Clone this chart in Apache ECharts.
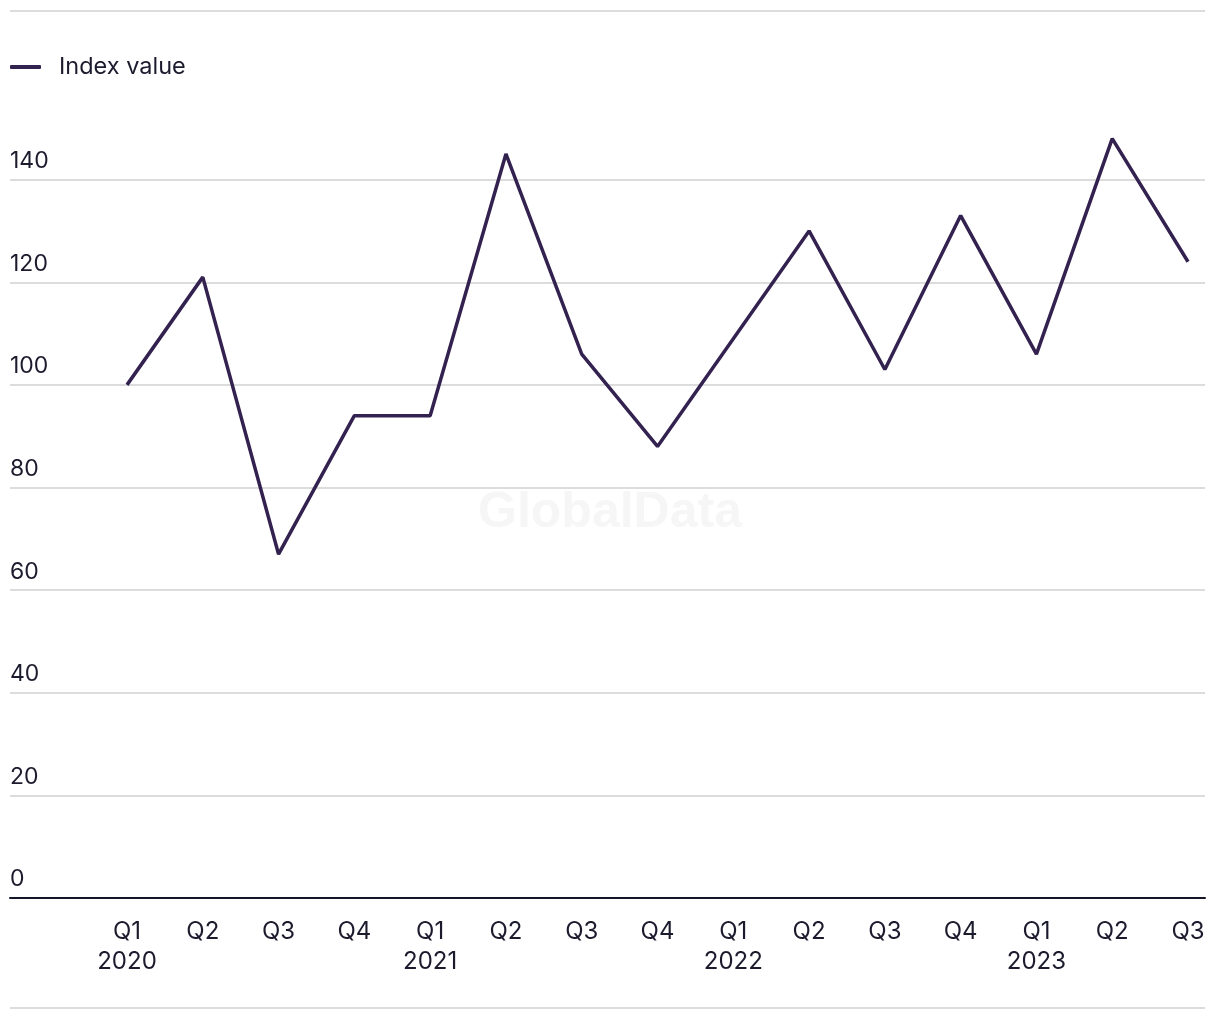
<!DOCTYPE html>
<html>
<head>
<meta charset="utf-8">
<script src="https://cdn.jsdelivr.net/npm/echarts@6/dist/echarts.min.js"></script>
<style>
html,body{margin:0;padding:0;background:#fff;}
#chart{width:1220px;height:1020px;}
</style>
</head>
<body>
<div id="chart"></div>
<script>
const quarters = ['Q1','Q2','Q3','Q4','Q1','Q2','Q3','Q4','Q1','Q2','Q3','Q4','Q1','Q2','Q3'];
const years    = ['2020','','','','2021','','','','2022','','','','2023','',''];
const indexValues = [100,121,67,94,94,145,106,88,109,130,103,133,106,148,124];
const yTicks = [0,20,40,60,80,100,120,140];

const FONT = 'Inter, "Liberation Sans", Arial, sans-serif';
const TEXT = '#1c1b2e';
const LINE = '#33224f';

const seriesData = indexValues.map((v, i) => [i, v]);
const labelIdx = quarters.map((q, i) => i);

const chart = echarts.init(document.getElementById('chart'), null, {renderer: 'canvas'});
chart.setOption({
  animation: false,
  backgroundColor: '#fff',
  textStyle: {fontFamily: FONT},
  legend: {
    show: true,
    left: 10,
    top: 55,
    padding: 0,
    itemWidth: 31,
    itemHeight: 4,
    icon: 'roundRect',
    textStyle: {fontFamily: FONT, fontSize: 23.5, color: TEXT, padding: [0,0,0,13]},
    data: ['Index value']
  },
  graphic: [
    {type: 'line', shape: {x1: 10, y1: 11, x2: 1205, y2: 11}, style: {stroke: '#dcdcdc', lineWidth: 2}, silent: true},
    {type: 'line', shape: {x1: 10, y1: 1008, x2: 1205, y2: 1008}, style: {stroke: '#dcdcdc', lineWidth: 2}, silent: true},
    {type: 'text', left: 'center', top: 488, z: -1, silent: true,
     style: {text: 'GlobalData', font: 'bold 50px "Liberation Sans", Arial, sans-serif', fill: '#f6f6f6'}}
  ],
  grid: {left: 10, right: 15, top: 77, bottom: 122, containLabel: false},
  xAxis: {
    type: 'value',
    min: -1.5438,
    max: 14.224,
    axisLine: {show: true, onZero: false, lineStyle: {color: '#151528', width: 2}},
    axisTick: {show: false},
    splitLine: {show: false},
    axisLabel: {
      customValues: labelIdx,
      margin: 19,
      fontSize: 24,
      lineHeight: 30,
      color: TEXT,
      fontFamily: FONT,
      formatter: function (v) {
        const i = Math.round(v);
        return years[i] ? quarters[i] + '\n' + years[i] : quarters[i];
      }
    }
  },
  yAxis: {
    type: 'value',
    min: 0,
    max: 160,
    interval: 20,
    axisLine: {show: false},
    axisTick: {show: false},
    splitLine: {show: true, showMinLine: false, showMaxLine: false, lineStyle: {color: '#dcdcdc', width: 2}},
    axisLabel: {
      inside: true,
      margin: 0,
      fontSize: 23,
      color: TEXT,
      fontFamily: FONT,
      align: 'left',
      verticalAlign: 'bottom',
      padding: [0,0,7,0],
      formatter: function (v) { return yTicks.indexOf(v) >= 0 ? String(v) : ''; }
    }
  },
  series: [{
    name: 'Index value',
    type: 'line',
    data: seriesData,
    symbol: 'none',
    lineStyle: {color: LINE, width: 3.5},
    itemStyle: {color: LINE},
    clip: false
  }]
});
</script>
</body>
</html>
